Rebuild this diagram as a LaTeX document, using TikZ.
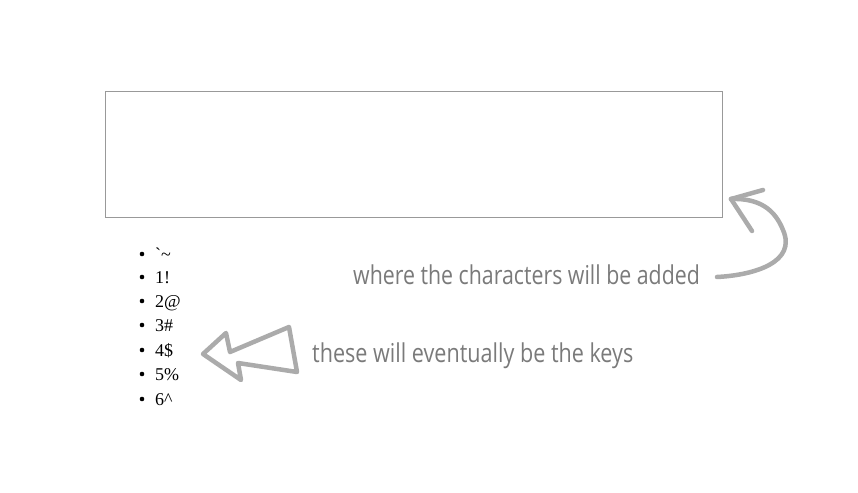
\documentclass[tikz,border=0pt]{standalone}
\usepackage{fontspec}
\setmainfont{Liberation Serif}
\newfontfamily\listfont[Ligatures=TeXOff]{Liberation Serif}
\newfontfamily\notefont{Open Sans}
\definecolor{boxgray}{HTML}{999999}
\definecolor{notegray}{HTML}{7A7A7A}
\definecolor{arrowgray}{HTML}{ABABAB}
\begin{document}
\begin{tikzpicture}[x=1pt,y=-1pt,
  item/.style={anchor=base west,inner sep=0pt,font=\listfont\fontsize{18}{20}\selectfont},
  bul/.style={circle,fill=black,inner sep=0pt,minimum size=4.6pt},
  note/.style={anchor=base west,inner sep=0pt,text=notegray,font=\notefont\fontsize{26}{30}\selectfont},
  sketch/.style={draw=arrowgray,line width=4.5pt,line cap=round,line join=round}]
\useasboundingbox (0,0) rectangle (858,492);
\draw[boxgray,line width=0.8pt] (105,91) rectangle (722,217);
\foreach \t/\y [count=\i] in {{\symbol{96}\symbol{126}}/254,1!/277,2@/301,3\#/325,4\$/350,5\%/374,6\symbol{94}/399}{
  \node[bul] (b\i) at (142,\y) {};
  \node[item] (k\i) at (155,\y+6) {\t};
}
\node[note] (n1) at (353,284) {\scalebox{0.82}[1]{where the characters will be added}};
\node[note] (n2) at (312,362) {\scalebox{0.83}[1]{these will eventually be the keys}};
\coordinate (c1) at (717,277);
\coordinate (c2) at (731,199);
\draw[sketch] (c1) .. controls (755,275) and (797,262) .. (783,230)
  .. controls (775,210) and (760,198) .. (c2);
\draw[sketch] (c2) -- (763,190);
\draw[sketch] (c2) -- (752,231);
\coordinate (t1) at (203,354);
\draw[sketch] (t1) -- (226,333) -- (230,352) -- (289,327) -- (297,372) -- (238,363) -- (241,380) -- cycle;
\end{tikzpicture}
\end{document}
